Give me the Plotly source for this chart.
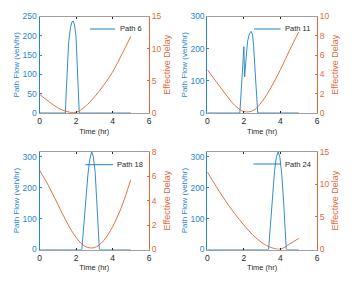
import plotly.graph_objects as go

# ---- data ----
paths = ["Path 6", "Path 11", "Path 18", "Path 24"]

delay_t = [0, 0.5, 1.0, 1.5, 2.0, 2.5, 3.0, 3.5, 4.0, 4.5, 5.0]
delay_p6 = [2.9, 1.8, 0.8, 0.22, 0.1, 1.0, 2.45, 4.25, 6.35, 9.05, 11.9]
delay_p11 = [4.5, 3.2, 1.95, 0.8, 0.15, 0.25, 1.2, 2.7, 4.5, 6.5, 8.4]
delay_p18 = [6.5, 5.2, 3.7, 2.22, 1.0, 0.25, 0.15, 0.7, 1.85, 3.5, 5.7]
delay_p24 = [11.9, 9.6, 7.45, 5.5, 3.75, 2.2, 1.02, 0.3, 0.06, 0.85, 1.7]

flow_t_p6 = [0, 1.42, 1.47, 1.53, 1.6, 1.7, 1.78, 1.85, 1.92, 2.0, 2.07, 2.15, 2.18, 5]
flow_p6 = [0, 0, 60, 132, 185, 222, 236, 238, 228, 198, 132, 46, 0, 0]

flow_t_p11 = [0, 1.78, 1.9, 2.0, 2.04, 2.12, 2.2, 2.3, 2.4, 2.48, 2.53, 2.64, 2.76, 5]
flow_p11 = [0, 0, 110, 206, 112, 175, 222, 246, 254, 242, 211, 107, 0, 0]

flow_t_p18 = [0, 2.32, 2.45, 2.53, 2.65, 2.75, 2.86, 2.95, 3.05, 3.13, 3.2, 3.28, 5]
flow_p18 = [0, 0, 95, 164, 240, 290, 316, 300, 250, 164, 90, 0, 0]

flow_t_p24 = [0, 3.35, 3.48, 3.58, 3.68, 3.78, 3.88, 3.97, 4.07, 4.17, 4.25, 4.32, 5]
flow_p24 = [0, 0, 100, 185, 255, 300, 316, 298, 245, 160, 80, 0, 0]

flow_max = [250, 300, 316, 316]
flow_ticks = [[0, 50, 100, 150, 200, 250], [0, 100, 200, 300], [0, 100, 200, 300], [0, 100, 200, 300]]
delay_max = [15, 10, 8, 15]
delay_ticks = [[0, 5, 10, 15], [0, 2, 4, 6, 8, 10], [0, 2, 4, 6, 8], [0, 5, 10, 15]]
x_ticks = [0, 2, 4, 6]

flows = [(flow_t_p6, flow_p6), (flow_t_p11, flow_p11), (flow_t_p18, flow_p18), (flow_t_p24, flow_p24)]
delays = [delay_p6, delay_p11, delay_p18, delay_p24]

# ---- styling ----
BLUE = "#1C80C8"
ORANGE = "#DD6230"
BLUE_TXT = "#2A86CB"
ORANGE_TXT = "#E06A3A"
DARK = "#262626"
GRAY = "#A0A0A0"
FONT = "Liberation Sans, Arial, sans-serif"
W, H = 355, 284

# panel boxes in pixels: (left, right, top, bottom)
boxes = [(39.5, 149, 16.5, 113), (207.3, 317, 16.5, 113),
         (39.5, 149, 151.7, 249.5), (207.3, 317, 151.7, 249.5)]
# legend: line start, line end, text start, y (pixels)
legend_px = [(90, 115, 117.5, 29), (254, 280.5, 282.5, 29),
             (85.5, 113, 115, 164.7), (253.5, 281, 283, 164)]
right_standoff = [3, 3, 8, 3]

fig = go.Figure()
layout = dict(
    width=W, height=H, margin=dict(l=0, r=0, t=0, b=0, autoexpand=False),
    paper_bgcolor="white", plot_bgcolor="white",
    font=dict(family=FONT, size=8.5, color=DARK),
    showlegend=False, hovermode=False,
)
shapes = []
annotations = []

for i in range(4):
    n = i + 1
    xa = "x" if n == 1 else f"x{n}"
    yl_idx = 2 * i + 1
    yr_idx = 2 * i + 2
    yl = "y" if yl_idx == 1 else f"y{yl_idx}"
    yr = f"y{yr_idx}"

    ft, fv = flows[i]
    fig.add_trace(go.Scatter(x=ft, y=fv, mode="lines", name=paths[i],
                             line=dict(color=BLUE, width=0.9), xaxis=xa, yaxis=yl,
                             cliponaxis=False))
    fig.add_trace(go.Scatter(x=delay_t, y=delays[i], mode="lines", line_shape="spline",
                             name="Effective Delay",
                             line=dict(color=ORANGE, width=0.9), xaxis=xa, yaxis=yr))

    l, r, t, b = boxes[i]
    xd = [l / W, r / W]
    yd = [1 - b / H, 1 - t / H]
    xkey = "xaxis" if n == 1 else f"xaxis{n}"
    ylkey = "yaxis" if yl_idx == 1 else f"yaxis{yl_idx}"
    yrkey = f"yaxis{yr_idx}"

    layout[xkey] = dict(domain=xd, anchor=yl, range=[0, 6], tickvals=x_ticks, automargin=False,
                        showgrid=False, zeroline=False, showline=True, linecolor=GRAY,
                        linewidth=1, mirror="ticks", ticks="inside", ticklen=2,
                        tickcolor=DARK, tickfont=dict(size=8.5, color=DARK),
                        title=dict(text="Time (hr)", font=dict(size=7.5, color=DARK), standoff=3))
    layout[ylkey] = dict(domain=yd, anchor=xa, range=[0, flow_max[i]], tickvals=flow_ticks[i],
                         automargin=False,
                         showgrid=False, zeroline=False, showline=True, linecolor=BLUE_TXT,
                         linewidth=1, ticks="inside", ticklen=2, tickcolor=BLUE_TXT,
                         tickfont=dict(size=8.5, color=BLUE_TXT),
                         title=dict(text="Path Flow (veh/hr)", font=dict(size=8, color=BLUE_TXT), standoff=1))
    layout[yrkey] = dict(domain=yd, anchor=xa, overlaying=yl, side="right",
                         range=[0, delay_max[i]], tickvals=delay_ticks[i], automargin=False,
                         showgrid=False, zeroline=False, showline=True, linecolor=ORANGE_TXT,
                         linewidth=1, ticks="inside", ticklen=2, tickcolor=ORANGE_TXT,
                         tickfont=dict(size=8.5, color=ORANGE_TXT),
                         title=dict(text="Effective Delay", font=dict(size=9, color=ORANGE_TXT),
                                    standoff=right_standoff[i]))

    # legend (box off, as in the reference)
    x0, x1, xt, yy = legend_px[i]
    shapes.append(dict(type="line", xref="paper", yref="paper", layer="above",
                       x0=x0 / W, x1=x1 / W, y0=1 - yy / H, y1=1 - yy / H,
                       line=dict(color=BLUE, width=1)))
    annotations.append(dict(text=paths[i], xref="paper", yref="paper", x=xt / W, y=1 - yy / H,
                            xanchor="left", yanchor="middle", showarrow=False,
                            font=dict(size=7.5, color=DARK)))

layout["shapes"] = shapes
layout["annotations"] = annotations
fig.update_layout(**layout)
fig.write_html("out.html", config={"displayModeBar": False, "staticPlot": True},
               post_script="document.body.style.margin='0';document.body.style.overflow='hidden';")
